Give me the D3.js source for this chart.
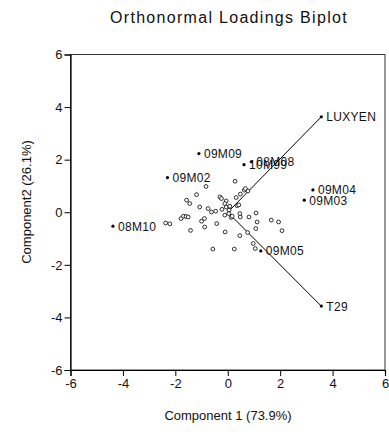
<!DOCTYPE html>
<html>
<head>
<meta charset="utf-8">
<script src="https://cdn.jsdelivr.net/npm/d3@7"></script>
<style>
  html, body { margin: 0; padding: 0; background: #fff; }
  svg text { font-family: "Liberation Sans", Arial, sans-serif; fill: #111; }
</style>
</head>
<body>
<svg id="chart" width="389" height="440"></svg>
<script>
// ---- data ----
const titleText = "Orthonormal Loadings Biplot";
const xTitle = "Component 1 (73.9%)";
const yTitle = "Component2 (26.1%)";
const tickValues = [-6, -4, -2, 0, 2, 4, 6];

const loadingNames = ["LUXYEN", "T29"];
const loadingX = [3.57, 3.57];
const loadingY = [3.63, -3.57];

const labeledNames = ["09M09", "10M99", "08M08", "09M02", "09M04", "09M03", "08M10", "09M05"];
const labeledX = [-1.10, 0.62, 0.90, -2.30, 3.25, 2.92, -4.38, 1.26];
const labeledY = [2.23, 1.81, 1.92, 1.32, 0.85, 0.46, -0.53, -1.47];

const obsX = [-0.30, -0.24, -0.06, -0.11, -0.06, 0.08, 0.05, 0.04, -0.11, 0.13, 0.17, 0.48, 0.46, 0.36, 0.32, 0.48, 0.63, 0.77, 0.67, 0.81,
              0.28, -0.83, -1.19, -1.57, -1.45, -1.07, -0.75, -0.62, -0.46, -1.78, -1.69, -1.59, -1.51, -2.37, -2.21, -1.42, -1.00, -0.89, -0.88, -0.42,
              -0.10, -0.57, 0.25, 0.46, 0.76, 0.97, 1.05, 1.07, 1.12, 1.08, 1.66, 1.94, 2.07, -0.22, 0.42];
const obsY = [0.58, 0.52, 0.43, 0.33, 0.20, 0.23, 0.08, -0.05, -0.11, -0.20, -0.15, -0.18, -0.05, 0.25, 0.56, 0.69, 0.84, 0.81, 0.90, -0.18,
              1.18, 0.98, 0.67, 0.46, 0.33, 0.20, 0.14, 0.01, 0.04, -0.24, -0.15, -0.16, -0.18, -0.41, -0.44, -0.69, -0.34, -0.24, -0.56, -0.43,
              -0.75, -1.40, -1.40, -0.89, -0.77, -1.19, -1.38, -0.62, -0.37, -0.03, -0.30, -0.37, -0.70, 0.11, 0.28];

// ---- chart ----
const svg = d3.select("#chart");
const x = d3.scaleLinear().domain([-6, 6]).range([70.5, 385]);
const y = d3.scaleLinear().domain([-6, 6]).range([370, 54.5]);

svg.append("text").attr("x", 229).attr("y", 23).attr("text-anchor", "middle")
  .attr("font-size", 16).attr("letter-spacing", "1.3px").text(titleText);

// frame
svg.append("rect").attr("x", x(-6)).attr("y", y(6)).attr("width", x(6) - x(-6)).attr("height", y(-6) - y(6))
  .attr("fill", "none").attr("stroke", "#333").attr("stroke-width", 1);

// axes
const xAxis = svg.append("g").attr("transform", `translate(0,${y(-6)})`)
  .call(d3.axisBottom(x).tickValues(tickValues).tickSize(6).tickPadding(3).tickFormat(d3.format("d")));
const yAxis = svg.append("g").attr("transform", `translate(${x(-6)},0)`)
  .call(d3.axisLeft(y).tickValues(tickValues).tickSize(6).tickPadding(2).tickFormat(d3.format("d")));
[xAxis, yAxis].forEach(a => {
  a.select(".domain").attr("stroke", "#000").attr("stroke-width", 1.2);
  a.selectAll(".tick line").attr("stroke", "#000");
  a.selectAll(".tick text").attr("font-size", 13).attr("fill", "#111")
    .attr("font-family", "Liberation Sans, Arial, sans-serif");
});
// replace unicode minus with hyphen look
svg.selectAll(".tick text").text(function(d) { return String(d); });

svg.append("text").attr("x", 228).attr("y", 420).attr("text-anchor", "middle")
  .attr("font-size", 13).text(xTitle);
svg.append("text").attr("transform", "translate(31,202) rotate(-90)").attr("text-anchor", "middle")
  .attr("font-size", 13).text(yTitle);

// loading vectors
loadingNames.forEach((n, i) => {
  svg.append("line").attr("x1", x(0)).attr("y1", y(0)).attr("x2", x(loadingX[i])).attr("y2", y(loadingY[i]))
    .attr("stroke", "#000").attr("stroke-width", 1);
});

// observations (open circles)
svg.append("g").selectAll("circle").data(obsX.map((v, i) => [v, obsY[i]])).join("circle")
  .attr("cx", d => x(d[0])).attr("cy", d => y(d[1])).attr("r", 1.9)
  .attr("fill", "#fff").attr("stroke", "#000").attr("stroke-width", 0.8);

// labeled points
const labeled = labeledNames.map((n, i) => ({ n, x: labeledX[i], y: labeledY[i] }))
  .concat(loadingNames.map((n, i) => ({ n, x: loadingX[i], y: loadingY[i] })));
const lg = svg.append("g");
lg.selectAll("circle").data(labeled).join("circle")
  .attr("cx", d => x(d.x)).attr("cy", d => y(d.y)).attr("r", 1.6).attr("fill", "#000");
lg.selectAll("text").data(labeled).join("text")
  .attr("x", d => x(d.x) + 5).attr("y", d => y(d.y)).attr("dy", "0.38em")
  .attr("font-size", 12).attr("letter-spacing", "0.3px").text(d => d.n);
</script>
</body>
</html>
